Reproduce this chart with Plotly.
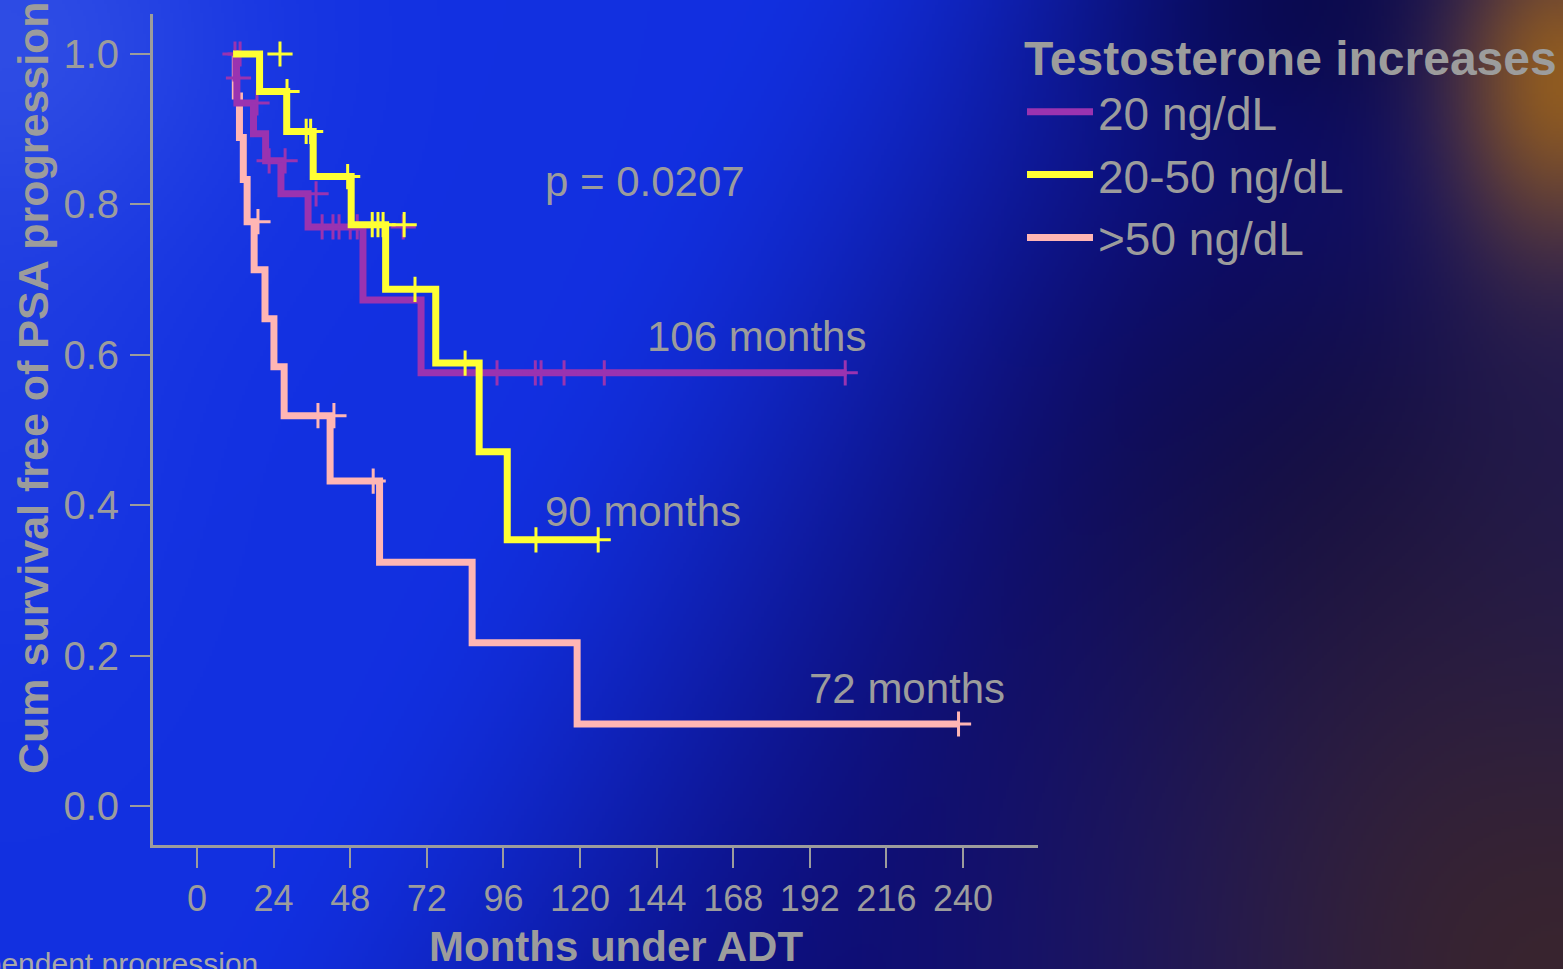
import base64
import struct
import zlib

import numpy as np
import plotly.graph_objects as go

# ---------------- data ----------------
months_ticks = [0, 24, 48, 72, 96, 120, 144, 168, 192, 216, 240]
surv_ticks = [0.0, 0.2, 0.4, 0.6, 0.8, 1.0]

# 20 ng/dL (purple)
purple_time = [11.3, 12.2, 12.5, 17.7, 21.5, 26.3, 34.8, 52.0, 70.2, 203.5]
purple_surv = [1.0, 0.968, 0.935, 0.894, 0.858, 0.814, 0.770, 0.673, 0.576, 0.576]
purple_cens_time = [11.9, 13.5, 13.0, 18.8, 22.6, 27.6, 37.3, 39.2, 42.6, 44.5, 48.0,
                    50.2, 64.6, 94.0, 106.0, 107.8, 115.0, 127.6, 203.1]
purple_cens_surv = [1.0, 1.0, 0.968, 0.935, 0.858, 0.858, 0.814, 0.770, 0.770, 0.770, 0.770,
                    0.770, 0.770, 0.576, 0.576, 0.576, 0.576, 0.576, 0.576]

# 20-50 ng/dL (yellow)
yellow_time = [11.3, 19.6, 28.1, 36.4, 48.3, 59.1, 74.8, 88.4, 97.2, 125.7]
yellow_surv = [1.0, 0.950, 0.897, 0.837, 0.773, 0.687, 0.589, 0.471, 0.354, 0.354]
yellow_cens_time = [26.0, 28.2, 34.2, 35.6, 47.2, 54.9, 56.7, 58.3, 64.9, 68.3, 84.0, 106.2, 125.7]
yellow_cens_surv = [1.0, 0.950, 0.897, 0.897, 0.837, 0.773, 0.773, 0.773, 0.773, 0.687, 0.589,
                    0.354, 0.354]

# >50 ng/dL (pink)
pink_time = [11.3, 12.0, 13.3, 14.5, 15.7, 17.9, 21.3, 24.1, 27.3, 41.7, 57.2, 86.2, 119.1, 238.6]
pink_surv = [1.0, 0.944, 0.889, 0.833, 0.777, 0.713, 0.648, 0.584, 0.519, 0.432, 0.324,
             0.217, 0.109, 0.109]
pink_cens_time = [19.1, 37.9, 42.9, 55.2, 238.6]
pink_cens_surv = [0.777, 0.519, 0.519, 0.432, 0.109]

group_names = ["20 ng/dL", "20-50 ng/dL", ">50 ng/dL"]
median_labels = ["106 months", "90 months", "72 months"]

# ---------------- styling ----------------
W, H = 1563, 969
GRAY = "#9c9c9c"
PURPLE = "#9a33b0"
YELLOW = "#ffff33"
PINK = "#ffb6b4"
FONT = "Liberation Sans, Arial, sans-serif"

# ---------------- decorative slide background (smooth gradient PNG) ----------------
nx, ny = 521, 323
xs = (np.arange(nx) + 0.5) * W / nx
ys = (np.arange(ny) + 0.5) * H / ny
X, Y = np.meshgrid(xs, ys)


def blob(cx, cy, sx, sy):
    return np.exp(-(((X - cx) ** 2) / (2 * sx ** 2) + ((Y - cy) ** 2) / (2 * sy ** 2)))


def mix(im, color, w):
    w = np.clip(w, 0, 1)[..., None]
    return im * (1 - w) + np.array(color, float)[None, None, :] * w


t = np.clip((X - 450) / 700 + (Y - 500) / 1300, 0, 1)
t = t * t * (3 - 2 * t)
B1 = np.array([18, 48, 225], float)
B2 = np.array([10, 12, 125], float)
img = B1[None, None, :] * (1 - t[..., None]) + B2[None, None, :] * t[..., None]
img = mix(img, [6, 6, 72], 0.85 * blob(1360, 490, 210, 200))
img = mix(img, [8, 8, 70], 0.8 * blob(1330, 0, 160, 110))
img = mix(img, [60, 38, 42], 0.95 * blob(1563, 969, 330, 380))
img = mix(img, [40, 30, 72], 0.55 * blob(1563, 420, 110, 250))
img = mix(img, [150, 95, 30], 0.95 * blob(1563, 80, 80, 120))
img = mix(img, [70, 100, 232], 0.55 * blob(0, 40, 170, 160))
img = mix(img, [45, 75, 225], 0.35 * blob(0, 420, 120, 200))
img = np.clip(img, 0, 255).astype(np.uint8)


def png_uri(arr):
    h, w, _ = arr.shape
    raw = b"".join(b"\x00" + arr[r].tobytes() for r in range(h))

    def chunk(tag, data):
        c = struct.pack(">I", len(data)) + tag + data
        return c + struct.pack(">I", zlib.crc32(tag + data) & 0xFFFFFFFF)

    png = (b"\x89PNG\r\n\x1a\n" + chunk(b"IHDR", struct.pack(">IIBBBBB", w, h, 8, 2, 0, 0, 0))
           + chunk(b"IDAT", zlib.compress(raw, 9)) + chunk(b"IEND", b""))
    return "data:image/png;base64," + base64.b64encode(png).decode()


fig = go.Figure()

series = [
    (pink_time, pink_surv, pink_cens_time, pink_cens_surv, PINK, group_names[2], 3),
    (purple_time, purple_surv, purple_cens_time, purple_cens_surv, PURPLE, group_names[0], 1),
    (yellow_time, yellow_surv, yellow_cens_time, yellow_cens_surv, YELLOW, group_names[1], 2),
]
for tt, ss, ct, cs, col, name, rank in series:
    fig.add_trace(go.Scatter(x=tt, y=ss, mode="lines", line=dict(color=col, width=7, shape="hv"),
                             name=name, legendrank=rank))
    fig.add_trace(go.Scatter(x=ct, y=cs, mode="markers", showlegend=False,
                             marker=dict(symbol="cross-thin", size=18,
                                         line=dict(color=col, width=3))))

x0_px, x1_px, y0_px, y1_px = 153, 1038, 14, 845
fig.update_layout(
    width=W, height=H, autosize=False,
    margin=dict(l=0, r=0, t=0, b=0),
    paper_bgcolor="#0c1a9a", plot_bgcolor="rgba(0,0,0,0)",
    showlegend=True,
    images=[dict(source=png_uri(img), xref="paper", yref="paper", x=0, y=1, sizex=1, sizey=1,
                 sizing="stretch", xanchor="left", yanchor="top", layer="below")],
    xaxis=dict(domain=[x0_px / W, x1_px / W], range=[-13.79, 263.5],
               showline=True, linecolor=GRAY, linewidth=3, ticks="outside", ticklen=20,
               tickwidth=2, tickcolor=GRAY, tickvals=months_ticks,
               tickfont=dict(family=FONT, size=36, color=GRAY),
               ticklabelstandoff=0, showgrid=False, zeroline=False),
    yaxis=dict(domain=[1 - y1_px / H, 1 - y0_px / H], range=[-0.0519, 1.0532],
               showline=True, linecolor=GRAY, linewidth=3, ticks="outside", ticklen=20,
               tickwidth=2, tickcolor=GRAY, tickvals=surv_ticks, tickformat=".1f",
               tickfont=dict(family=FONT, size=40, color=GRAY),
               ticklabelstandoff=3, showgrid=False, zeroline=False),
    legend=dict(x=1022 / W, y=1 - 13 / H, xanchor="left", yanchor="top",
                bgcolor="rgba(0,0,0,0)", font=dict(family=FONT, size=46, color=GRAY),
                title=dict(text="<b>Testosterone increases</b>",
                           font=dict(family=FONT, size=48, color=GRAY)),
                itemwidth=66, tracegroupgap=0),
    font=dict(family=FONT, color=GRAY),
)

ann = [
    dict(text="p = 0.0207", x=140.4, y=0.831),
    dict(text=median_labels[0], x=175.4, y=0.624),
    dict(text=median_labels[1], x=139.7, y=0.392),
    dict(text=median_labels[2], x=222.4, y=0.156),
]
for a in ann:
    fig.add_annotation(text=a["text"], x=a["x"], y=a["y"], xref="x", yref="y",
                       showarrow=False, font=dict(family=FONT, size=42, color=GRAY),
                       xanchor="center", yanchor="middle")

fig.add_annotation(text="<b>Cum survival free of PSA progression</b>", textangle=-90,
                   x=33 / W, y=1 - 388 / H, xref="paper", yref="paper", showarrow=False,
                   font=dict(family=FONT, size=43, color=GRAY), xanchor="center", yanchor="middle")
fig.add_annotation(text="<b>Months under ADT</b>", x=616 / W, y=1 - 946 / H, xref="paper",
                   yref="paper", showarrow=False, font=dict(family=FONT, size=42, color=GRAY),
                   xanchor="center", yanchor="middle")
fig.add_annotation(text="independent progression", x=260 / W, y=1 - 963 / H, xref="paper",
                   yref="paper", showarrow=False, font=dict(family=FONT, size=30, color="#a8a8a8"),
                   xanchor="right", yanchor="middle")

fig.write_html("out.html", config={"displayModeBar": False},
               post_script="document.body.style.margin='0';document.body.style.overflow='hidden';")
